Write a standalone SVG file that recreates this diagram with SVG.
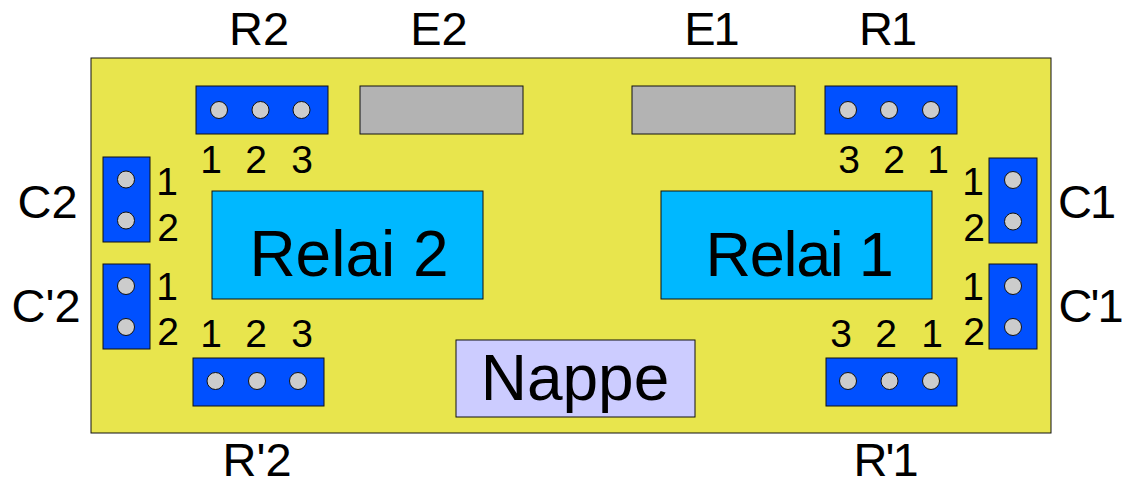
<svg xmlns="http://www.w3.org/2000/svg" width="1124" height="479" viewBox="0 0 1124 479">
<style>
text{font-family:"Liberation Sans",Arial,sans-serif;fill:#000}
.b{fill:#0050ff;stroke:#111;stroke-width:1}
.g{fill:#b3b3b3;stroke:#111;stroke-width:1}
.r{fill:#00b8ff;stroke:#111;stroke-width:1}
.h{fill:#cccccc;stroke:#111;stroke-width:1}
.l{font-size:47px;text-anchor:middle}
.t{letter-spacing:-2px}
.n{font-size:39px;text-anchor:middle}
.big{font-size:64px;text-anchor:middle}
</style>
<g id="board"><rect x="91" y="58" width="960" height="375" fill="#e8e54d" stroke="#111"/></g>
<g id="connectors"></g>
<g id="R2"><rect class="b" x="196" y="86" width="132" height="48"/><circle class="h" cx="219" cy="110" r="8.500"/><circle class="h" cx="260.500" cy="110" r="8.500"/><circle class="h" cx="301.500" cy="110" r="8.500"/>
<text class="l" x="259" y="45">R2</text><text class="n" x="211" y="173">1</text><text class="n" x="256" y="173">2</text><text class="n" x="302" y="173">3</text></g>
<g id="E2"><rect class="g" x="360" y="86" width="163" height="48"/><text class="l" x="439" y="45">E2</text></g>
<g id="E1"><rect class="g" x="632" y="86" width="163" height="48"/><text class="l t" x="711" y="45">E1</text></g>
<g id="R1"><rect class="b" x="825" y="86" width="132" height="48"/><circle class="h" cx="848" cy="110" r="8.500"/><circle class="h" cx="889" cy="110" r="8.500"/><circle class="h" cx="931" cy="110" r="8.500"/>
<text class="l t" x="887" y="45">R1</text><text class="n" x="849" y="173">3</text><text class="n" x="894" y="173">2</text><text class="n" x="938" y="173">1</text></g>
<g id="C2"><rect class="b" x="103" y="157" width="47" height="85"/><circle class="h" cx="126" cy="179.500" r="8.500"/><circle class="h" cx="126" cy="220.500" r="8.500"/>
<text class="l" x="47.500" y="217.500">C2</text><text class="n" x="167" y="195">1</text><text class="n" x="168" y="241">2</text></g>
<g id="C-2"><rect class="b" x="103" y="264" width="47" height="85"/><circle class="h" cx="126" cy="286" r="8.500"/><circle class="h" cx="126" cy="327" r="8.500"/>
<text class="l" x="46" y="321.500">C'2</text><text class="n" x="167" y="300">1</text><text class="n" x="168" y="345">2</text></g>
<g id="C1"><rect class="b" x="989" y="158" width="48" height="85"/><circle class="h" cx="1013" cy="180" r="8.500"/><circle class="h" cx="1013" cy="221.500" r="8.500"/>
<text class="l t" x="1086" y="217.500">C1</text><text class="n" x="973" y="195">1</text><text class="n" x="974" y="241">2</text></g>
<g id="C-1"><rect class="b" x="989" y="264" width="48" height="85"/><circle class="h" cx="1013" cy="286" r="8.500"/><circle class="h" cx="1013" cy="327" r="8.500"/>
<text class="l t" x="1090" y="321.500">C'1</text><text class="n" x="973" y="300">1</text><text class="n" x="974" y="345">2</text></g>
<g id="Relai2"><rect class="r" x="212" y="191" width="271" height="108"/><text class="big" x="349" y="276">Relai 2</text></g>
<g id="Relai1"><rect class="r" x="661" y="191" width="271" height="108"/><text x="705.500" y="276" font-size="63" letter-spacing="-1.300">Relai 1</text></g>
<g id="R-2"><rect class="b" x="193" y="358" width="131" height="48"/><circle class="h" cx="215.500" cy="381" r="8.500"/><circle class="h" cx="257" cy="381" r="8.500"/><circle class="h" cx="298" cy="381" r="8.500"/>
<text class="n" x="211" y="347">1</text><text class="n" x="256" y="347">2</text><text class="n" x="302" y="347">3</text><text class="l" x="257" y="475.500">R'2</text></g>
<g id="R-1"><rect class="b" x="826" y="358" width="131" height="48"/><circle class="h" cx="848" cy="381" r="8.500"/><circle class="h" cx="889.500" cy="381" r="8.500"/><circle class="h" cx="931" cy="381" r="8.500"/>
<text class="n" x="841" y="347">3</text><text class="n" x="886" y="347">2</text><text class="n" x="932" y="347">1</text><text class="l t" x="885" y="475.500">R'1</text></g>
<g id="Nappe"><rect x="456" y="340" width="239" height="77" fill="#ccccff" stroke="#111"/><text class="big" x="575" y="400">Nappe</text></g>
</svg>
